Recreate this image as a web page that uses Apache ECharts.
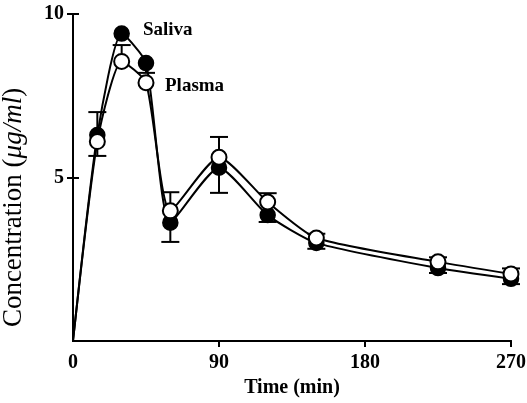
<!DOCTYPE html>
<html>
<head>
<meta charset="utf-8">
<script src="https://cdn.jsdelivr.net/npm/echarts@6/dist/echarts.min.js"></script>
<style>
  html, body { margin: 0; background: #fff; }
  #chart { width: 527px; height: 403px; }
</style>
</head>
<body>
<div id="chart"></div>
<script>
// sampling times (min)
const times = [0, 15, 30, 45, 60, 90, 120, 150, 225, 270];
// concentration (ug/ml)
const saliva = [0, 6.3, 9.4, 8.5, 3.62, 5.3, 3.85, 3.0, 2.23, 1.9];
const plasma = [0, 6.1, 8.55, 7.9, 3.98, 5.62, 4.25, 3.15, 2.42, 2.05];
// error bars: [time, mean, bar end]
const salivaErr = [[15, 6.3, 7.0], [45, 8.5, 8.2], [60, 3.62, 3.03], [90, 5.3, 4.53], [120, 3.85, 3.64], [150, 3.0, 2.82], [225, 2.23, 2.08], [270, 1.9, 1.74]];
const plasmaErr = [[15, 6.1, 5.66], [30, 8.55, 9.05], [60, 3.98, 4.55], [90, 5.62, 6.24], [120, 4.25, 4.52], [150, 3.15, 3.28], [225, 2.42, 2.56], [270, 2.05, 2.22]];
const xTicks = [90, 180, 270];
const xLabels = [0, 90, 180, 270];
const yTicks = [5, 10];

const font = '"Liberation Serif", "DejaVu Serif", serif';

function toPoints(vals) {
  return times.map((t, i) => i === 0 ? { value: [t, vals[i]], symbol: 'none' } : [t, vals[i]]);
}

function errBar(params, api) {
  const p0 = api.coord([api.value(0), api.value(1)]);
  const p1 = api.coord([api.value(0), api.value(2)]);
  const w = 9;
  const st = { stroke: '#000', lineWidth: 2 };
  return {
    type: 'group',
    children: [
      { type: 'line', shape: { x1: p0[0], y1: p0[1], x2: p1[0], y2: p1[1] }, style: st },
      { type: 'line', shape: { x1: p1[0] - w, y1: p1[1], x2: p1[0] + w, y2: p1[1] }, style: st }
    ]
  };
}

const chart = echarts.init(document.getElementById('chart'));

const baseX = {
  type: 'value', min: 0, max: 270,
  axisLine: { show: true, lineStyle: { color: '#000', width: 2 } },
  splitLine: { show: false }
};
const baseY = {
  type: 'value', min: 0, max: 10,
  axisLine: { show: true, lineStyle: { color: '#000', width: 2 } },
  splitLine: { show: false }
};

chart.setOption({
  animation: false,
  grid: { left: 73, right: 16, top: 14, bottom: 62, containLabel: false, outerBoundsMode: 'none' },
  xAxis: [
    Object.assign({}, baseX, {
      name: 'Time (min)', nameLocation: 'middle', nameGap: 36,
      nameTextStyle: { fontFamily: font, fontWeight: 'bold', fontSize: 20, color: '#000' },
      axisTick: { show: true, length: 6, customValues: xTicks, lineStyle: { color: '#000', width: 2 } },
      axisLabel: { customValues: xLabels, margin: 12, fontFamily: font, fontWeight: 'bold', fontSize: 20, color: '#000' }
    }),
    Object.assign({}, baseX, {
      axisTick: { show: true, inside: true, length: 6, customValues: xTicks, lineStyle: { color: '#000', width: 2 } },
      axisLabel: { show: false }
    })
  ],
  yAxis: [
    Object.assign({}, baseY, {
      name: '{n|Concentration (}{i|\u03bcg/ml}{n|)}', nameLocation: 'middle', nameGap: 46,
      nameTextStyle: {
        padding: [0, 60, 0, 0],
        rich: {
          n: { fontFamily: font, fontSize: 27, color: '#000' },
          i: { fontFamily: font, fontStyle: 'italic', fontSize: 27, color: '#000' }
        }
      },
      axisTick: { show: true, length: 6, customValues: yTicks, lineStyle: { color: '#000', width: 2 } },
      axisLabel: { customValues: yTicks, margin: 9, fontFamily: font, fontWeight: 'bold', fontSize: 20, color: '#000' }
    }),
    Object.assign({}, baseY, {
      position: 'left', offset: 0,
      axisTick: { show: true, inside: true, length: 6, customValues: yTicks, lineStyle: { color: '#000', width: 2 } },
      axisLabel: { show: false }
    })
  ],
  graphic: [
    { type: 'text', left: 143, top: 21, style: { text: 'Saliva', font: 'bold 19px ' + font, fill: '#000' } },
    { type: 'text', left: 165, top: 77, style: { text: 'Plasma', font: 'bold 19px ' + font, fill: '#000' } }
  ],
  series: [
    {
      name: 'Saliva err', type: 'custom', renderItem: errBar, data: salivaErr,
      encode: { x: 0, y: [1, 2] }, z: 1
    },
    {
      name: 'Plasma err', type: 'custom', renderItem: errBar, data: plasmaErr,
      encode: { x: 0, y: [1, 2] }, z: 1
    },
    {
      name: 'Saliva', type: 'line', data: toPoints(saliva), smooth: 0.2, z: 3,
      symbol: 'circle', symbolSize: 15,
      lineStyle: { color: '#000', width: 2 },
      itemStyle: { color: '#000', borderColor: '#000', borderWidth: 1.5 }
    },
    {
      name: 'Plasma', type: 'line', data: toPoints(plasma), smooth: 0.2, z: 4,
      symbol: 'circle', symbolSize: 15,
      lineStyle: { color: '#000', width: 2 },
      itemStyle: { color: '#fff', borderColor: '#000', borderWidth: 2 }
    }
  ]
});
</script>
</body>
</html>
